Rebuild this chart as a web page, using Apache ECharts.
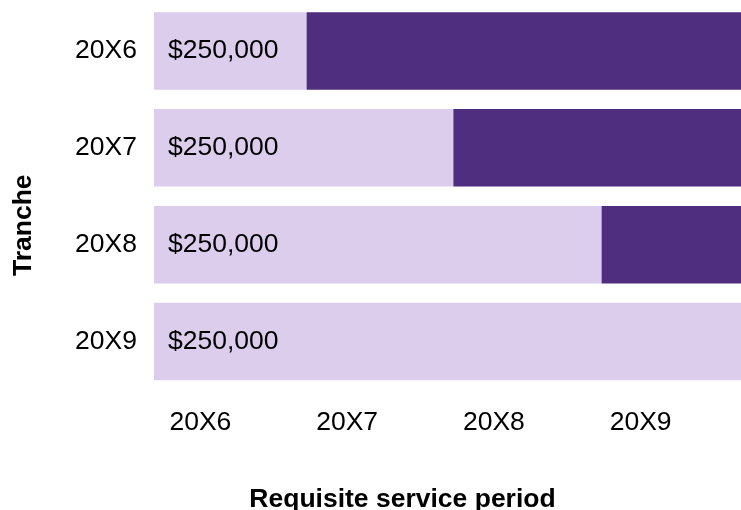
<!DOCTYPE html>
<html>
<head>
<meta charset="utf-8">
<script src="https://cdn.jsdelivr.net/npm/echarts@6/dist/echarts.min.js"></script>
<style>html,body{margin:0;padding:0;background:#fff;}#c{width:741px;height:510px;}</style>
</head>
<body>
<div id="c"></div>
<script>
const tranches = ['20X6', '20X7', '20X8', '20X9'];
const periodLabels = ['20X6', '20X7', '20X8', '20X9'];
const vestedPortion = [1.04, 2.04, 3.05, 4.0];
const remainingPortion = [2.96, 1.96, 0.95, 0];
const amountLabels = ['$250,000', '$250,000', '$250,000', '$250,000'];

const FONT = '"Liberation Sans", Arial, sans-serif';
const FS = 26.5;
const chart = echarts.init(document.getElementById('c'), null, {renderer: 'canvas'});
chart.setOption({
  animation: false,
  backgroundColor: '#ffffff',
  grid: {left: 154, right: 0, top: 2.5, bottom: 120, containLabel: false, outerBoundsMode: 'none'},
  xAxis: [
    {type: 'value', min: 0, max: 4, show: false},
    {type: 'category', data: periodLabels, position: 'bottom', boundaryGap: true,
     axisLine: {show: false}, axisTick: {show: false}, splitLine: {show: false},
     axisLabel: {color: '#000', fontFamily: FONT, fontSize: FS, margin: 19, padding: [0, 54, 0, 0]},
     name: 'Requisite service period', nameLocation: 'middle', nameGap: 96,
     nameTextStyle: {color: '#000', fontFamily: FONT, fontSize: FS, fontWeight: 'bold', padding: [0, 90, 0, 0]}}
  ],
  yAxis: {
    type: 'category', data: tranches, inverse: true,
    axisLine: {show: false}, axisTick: {show: false}, splitLine: {show: false},
    axisLabel: {color: '#000', fontFamily: FONT, fontSize: FS, margin: 17, padding: [8, 0, 0, 0]},
    name: 'Tranche', nameLocation: 'middle', nameGap: 117, nameRotate: 90,
    nameTextStyle: {color: '#000', fontFamily: FONT, fontSize: FS, fontWeight: 'bold', padding: [0, 58, 0, 0]}
  },
  series: [
    {type: 'bar', stack: 't', xAxisIndex: 0, data: vestedPortion, barWidth: '80%',
     itemStyle: {color: '#DCCDED'},
     label: {show: true, position: 'insideLeft', distance: 14, color: '#000', fontFamily: FONT, fontSize: FS,
             padding: [8, 0, 0, 0],
             formatter: p => amountLabels[p.dataIndex]}},
    {type: 'bar', stack: 't', xAxisIndex: 0, data: remainingPortion, barWidth: '80%',
     itemStyle: {color: '#4F2D7F'}}
  ]
});
</script>
</body>
</html>
